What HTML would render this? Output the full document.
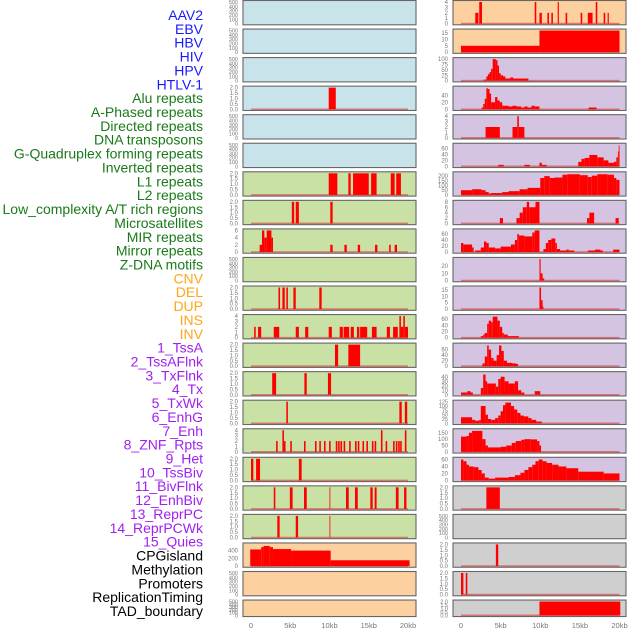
<!DOCTYPE html>
<html><head><meta charset="utf-8">
<style>
html,body{margin:0;padding:0;background:#fff;}
svg{display:block;font-family:"Liberation Sans",sans-serif;}
</style></head>
<body>
<svg id="chart" width="630" height="630" viewBox="0 0 630 630" xmlns="http://www.w3.org/2000/svg"></svg>
<script>
// ---- labels ----
const rowLabels = ["AAV2","EBV","HBV","HIV","HPV","HTLV-1","Alu repeats","A-Phased repeats","Directed repeats","DNA transposons","G-Quadruplex forming repeats","Inverted repeats","L1 repeats","L2 repeats","Low_complexity A/T rich regions","Microsatellites","MIR repeats","Mirror repeats","Z-DNA motifs","CNV","DEL","DUP","INS","INV","1_TssA","2_TssAFlnk","3_TxFlnk","4_Tx","5_TxWk","6_EnhG","7_Enh","8_ZNF_Rpts","9_Het","10_TssBiv","11_BivFlnk","12_EnhBiv","13_ReprPC","14_ReprPCWk","15_Quies","CPGisland","Methylation","Promoters","ReplicationTiming","TAD_boundary"];
const labelColors = ["#1a1aff","#1a1aff","#1a1aff","#1a1aff","#1a1aff","#1a1aff","#1a7a1a","#1a7a1a","#1a7a1a","#1a7a1a","#1a7a1a","#1a7a1a","#1a7a1a","#1a7a1a","#1a7a1a","#1a7a1a","#1a7a1a","#1a7a1a","#1a7a1a","#ffa51a","#ffa51a","#ffa51a","#ffa51a","#ffa51a","#a020f0","#a020f0","#a020f0","#a020f0","#a020f0","#a020f0","#a020f0","#a020f0","#a020f0","#a020f0","#a020f0","#a020f0","#a020f0","#a020f0","#a020f0","#000","#000","#000","#000","#000"];
// ---- x axis ----
const xTicks = [0,5,10,15,20];
const xTickLabels = ["0","5kb","10kb","15kb","20kb"];
// ---- tick sets ----
const T500=[0,100,200,300,400,500], T2=[0,0.5,1,1.5,2], T4=[0,1,2,3,4], T6=[0,2,4,6];
// ---- left column ----
const leftBg = ["#c8e3ea","#c8e3ea","#c8e3ea","#c8e3ea","#c8e3ea","#c8e3ea","#c9e1a4","#c9e1a4","#c9e1a4","#c9e1a4","#c9e1a4","#c9e1a4","#c9e1a4","#c9e1a4","#c9e1a4","#c9e1a4","#c9e1a4","#c9e1a4","#c9e1a4","#fdd0a0","#fdd0a0","#fdd0a0"];
const leftMax = [500,500,500,2,500,500,2,2,6,500,2,4,2,2,2,4,2,2,2,560,500,500];
const leftTicks = [T500,T500,T500,T2,T500,T500,T2,T2,T6,T500,T2,T4,T2,T2,T2,T4,T2,T2,T2,[0,200,400],T500,T500];
const leftSegs = [
 [],[],[],
 [[9.9,10.8,2]],
 [],[],
 [[9.9,11.0,2],[12.4,12.7,2],[13.0,15.0,2],[15.3,16.0,2],[17.8,18.3,2],[18.5,19.1,2]],
 [[5.2,5.5,2],[5.7,6.1,2],[10.1,10.4,2]],
 [[1.1,1.4,2],[1.4,1.7,6],[1.7,2.0,4],[2.0,2.6,6],[2.6,2.8,4],[10.1,10.4,2],[11.9,12.2,2],[13.6,13.9,2],[15.8,16.1,2],[17.6,17.8,2],[18.3,18.6,2]],
 [],
 [[3.5,3.7,2],[4.0,4.3,2],[4.5,4.7,2],[5.4,5.7,2],[8.7,9.0,2]],
 [[0.4,0.6,2],[0.9,1.3,2],[2.9,3.6,2],[5.7,6.1,2],[6.9,7.3,2],[9.9,10.3,2],[11.3,11.7,2],[11.8,12.5,2],[12.7,13.1,2],[13.5,13.8,2],[13.9,14.8,2],[15.4,16.0,2],[17.3,17.7,2],[18.1,18.7,2],[18.9,19.1,4],[19.1,19.4,2],[19.4,19.6,4],[19.6,20.0,2]],
 [[10.7,11.1,2],[12.4,13.9,2]],
 [[2.7,3.2,2],[6.8,7.1,2],[9.8,10.2,2]],
 [[4.5,4.7,2],[18.9,19.2,2],[19.6,19.9,2]],
 [[3.2,3.4,2],[4.0,4.2,4],[4.2,4.4,2],[5.0,5.2,2],[6.75,6.95,2],[8.15,8.35,2],[8.7,8.9,2],[9.3,9.5,2],[9.95,10.15,2],[10.8,11.0,2],[11.1,11.3,2],[11.4,11.6,2],[11.8,12.0,2],[12.5,12.7,2],[13.25,13.45,2],[13.6,13.8,2],[14.2,14.4,2],[14.7,14.9,2],[15.4,15.6,2],[15.75,15.95,2],[16.55,16.75,4],[17.15,17.35,2],[18.1,18.3,2],[18.45,18.65,2],[18.75,18.95,2],[19.0,19.2,2],[19.6,19.8,4]],
 [[0.0,0.3,2],[0.65,1.15,2],[6.1,6.45,2]],
 [[2.9,3.1,2],[4.95,5.3,2],[6.75,7.1,2],[10.0,10.1,2],[12.1,12.45,2],[13.25,13.6,2],[15.2,15.5,2],[15.75,16.0,2],[18.45,18.8,2],[19.5,19.8,2]],
 [[3.35,3.65,2],[5.7,6.0,2],[10.0,10.1,2]],
 [[-0.1,1.3,430],[1.3,1.6,490],[1.6,2.4,520],[2.4,2.8,490],[2.8,5.1,440],[5.1,10.15,400],[10.15,20.2,150]],
 [],[]
];
// ---- right column ----
const rightBg = ["#fdd0a0","#fdd0a0","#d5c4e1","#d5c4e1","#d5c4e1","#d5c4e1","#d5c4e1","#d5c4e1","#d5c4e1","#d5c4e1","#d5c4e1","#d5c4e1","#d5c4e1","#d5c4e1","#d5c4e1","#d5c4e1","#d5c4e1","#cfcfcf","#cfcfcf","#cfcfcf","#cfcfcf","#cfcfcf"];
const rightMax = [4,17,100,62,4,72,230,8,72,30,17,70,78,48,125,170,62,2,500,2,2,2];
const rightTicks = [T4,[0,5,10,15],[0,25,50,75,100],[0,20,40],T4,[0,20,40,60],[0,50,100,150,200],[0,2,4,6,8],[0,20,40,60],[0,10,20],[0,5,10,15],[0,20,40,60],[0,20,40,60],[0,10,20,30,40],[0,25,50,75,100,125],[0,50,100,150],[0,20,40,60],T2,T500,T2,T2,T2];
const rightSegs = [
 [[1.8,2.2,2],[2.3,2.65,4],[9.3,9.5,4],[9.9,10.2,2],[10.9,11.1,2],[11.4,11.6,2],[12.2,12.35,4],[13.2,13.4,2],[15.1,15.3,2],[16.0,16.6,2],[17.0,17.2,4],[18.0,18.2,2],[18.5,18.65,2]],
 [[0,9.9,5],[9.9,20.0,17]],
 [[2.85,3.2,5],[3.2,3.4,20],[3.4,3.6,30],[3.6,3.8,40],[3.8,4.0,55],[4.0,4.4,100],[4.4,4.6,95],[4.6,4.8,70],[4.8,5.0,35],[5.0,5.3,25],[5.3,5.6,20],[5.6,6.2,10],[6.2,6.6,15],[6.6,8.5,10]],
 [[2.6,2.8,5],[2.8,3.0,15],[3.0,3.2,30],[3.2,3.4,60],[3.4,3.6,58],[3.6,3.8,45],[3.8,4.3,20],[4.3,4.6,35],[4.6,4.9,25],[4.9,5.2,20],[5.2,6.0,10],[6.0,6.5,8],[6.5,7.0,10],[7.0,7.6,8],[7.6,8.0,5],[8.0,8.4,8],[8.4,8.9,5],[8.9,9.3,10],[9.3,9.9,8],[16.1,17.1,5]],
 [[3.1,4.9,2],[6.5,7.1,2],[7.1,7.3,4],[7.3,8.0,2]],
 [[4.7,5.4,5],[8.0,8.7,5],[9.9,10.2,12],[10.2,10.8,5],[14.8,15.2,15],[15.2,15.6,25],[15.6,16.2,28],[16.2,17.2,38],[17.2,18.0,30],[18.0,18.6,20],[18.6,19.3,12],[19.3,19.6,15],[19.6,19.8,30],[19.8,19.9,50],[19.9,20.0,70]],
 [[0,1.4,50],[1.4,2.6,60],[2.6,3.1,50],[3.1,3.5,30],[3.5,3.8,15],[3.8,5.2,20],[5.2,6.0,30],[6.0,7.4,40],[7.4,8.4,60],[8.4,10.0,75],[10.0,10.5,180],[10.5,11.2,200],[11.2,11.8,180],[11.8,12.8,185],[12.8,13.4,215],[13.4,15.0,220],[15.0,16.0,210],[16.0,16.5,190],[16.5,17.2,205],[17.2,18.5,220],[18.5,19.3,215],[19.3,19.6,180],[19.6,20.0,160]],
 [[4.9,5.3,2],[7.0,7.4,2],[7.4,7.8,4],[7.8,8.3,6],[8.3,8.6,8],[8.6,9.4,6],[9.4,9.9,8],[15.9,16.2,2],[16.2,16.8,4],[19.5,19.9,2]],
 [[0,0.3,30],[0.3,1.4,25],[1.4,1.6,15],[1.8,2.5,5],[2.5,2.9,15],[2.9,3.2,35],[3.2,3.5,30],[3.5,4.3,15],[4.3,5.0,12],[5.0,6.3,18],[6.3,6.8,25],[6.8,7.1,40],[7.1,7.3,60],[7.3,8.0,55],[8.0,9.0,52],[9.0,9.3,65],[9.3,9.9,72],[10.4,10.7,10],[10.7,11.0,30],[11.0,11.4,40],[11.4,11.9,45],[11.9,12.1,30],[12.1,12.5,10],[12.5,13.3,5],[13.3,13.6,8],[13.6,14.3,5],[16.0,16.9,5],[16.9,17.6,8],[17.6,17.9,5],[19.2,20.0,8]],
 [[9.9,10.05,30],[10.05,10.3,10],[10.3,10.5,3]],
 [[9.9,10.1,17],[10.1,10.3,7],[10.3,10.4,2]],
 [[2.5,2.8,5],[2.8,3.0,10],[3.0,3.3,15],[3.3,3.5,45],[3.5,3.8,55],[3.8,4.0,50],[4.0,4.6,68],[4.6,4.9,55],[4.9,5.2,35],[5.2,5.4,15],[5.4,5.9,10],[5.9,7.3,5]],
 [[2.7,3.0,10],[3.0,3.3,35],[3.3,3.5,75],[3.5,3.8,60],[3.8,4.1,30],[4.1,4.5,20],[4.5,4.8,40],[4.8,5.1,75],[5.1,5.4,55],[5.4,5.8,20],[5.8,6.5,12],[6.5,7.0,10],[7.0,7.2,8]],
 [[0,0.8,5],[0.8,1.2,8],[1.2,1.5,5],[2.5,2.8,15],[2.8,3.1,45],[3.1,3.3,30],[3.3,4.4,25],[4.4,4.7,18],[4.7,5.0,35],[5.0,5.5,40],[5.5,6.0,30],[6.0,6.8,25],[6.8,7.2,30],[7.2,7.6,10],[7.6,8.0,5],[9.3,10.0,8]],
 [[0,1.4,35],[1.4,1.8,20],[1.8,2.3,15],[2.3,2.5,20],[2.5,3.1,100],[3.1,3.4,50],[3.4,3.8,25],[3.8,4.3,20],[4.3,4.7,30],[4.7,5.0,45],[5.0,5.3,70],[5.3,5.6,105],[5.6,6.3,120],[6.3,6.7,100],[6.7,7.1,80],[7.1,7.5,60],[7.5,7.9,45],[7.9,8.5,40],[8.5,8.9,30],[8.9,9.5,20],[9.5,10.2,10]],
 [[0,0.7,120],[0.7,1.0,125],[1.0,1.4,150],[1.4,2.7,165],[2.7,3.1,100],[3.1,3.4,50],[3.4,5.0,35],[5.0,5.7,40],[5.7,6.4,50],[6.4,6.9,70],[6.9,7.6,85],[7.6,8.0,95],[8.0,8.8,100],[8.8,9.6,98],[9.6,9.9,85],[9.9,10.1,50]],
 [[0,0.3,60],[0.3,0.7,55],[0.7,1.0,45],[1.0,1.6,40],[1.6,2.2,38],[2.2,2.6,30],[2.6,3.0,20],[3.0,3.5,8],[3.5,4.3,5],[4.3,6.0,8],[6.0,6.8,10],[6.8,7.5,15],[7.5,8.0,22],[8.0,8.5,30],[8.5,9.0,38],[9.0,9.4,45],[9.4,9.8,55],[9.8,10.3,60],[10.3,10.8,55],[10.8,11.5,50],[11.5,12.3,45],[12.3,13.3,40],[13.3,14.8,35],[14.8,18.0,25],[18.0,20.0,20]],
 [[3.2,4.9,2]],
 [],
 [[4.4,4.7,2]],
 [[0.0,0.3,2],[0.6,0.8,2]],
 [[9.9,20.1,2]]
];

const NS="http://www.w3.org/2000/svg";
const svg=document.getElementById('chart');
function mk(tag,attrs,parent){const e=document.createElementNS(NS,tag);for(const k in attrs)e.setAttribute(k,attrs[k]);(parent||svg).appendChild(e);return e;}

// labels
rowLabels.forEach((t,i)=>{
  const e=mk('text',{x:203,y:20+i*13.86,'text-anchor':'end','font-size':14,fill:labelColors[i]});
  e.textContent=t;
  
  
});

const cols=[
 {name:'left',x0:243,x1:416,d0:251,d1:408,bg:leftBg,max:leftMax,ticks:leftTicks,segs:leftSegs},
 {name:'right',x0:453,x1:626,d0:461,d1:619.5,bg:rightBg,max:rightMax,ticks:rightTicks,segs:rightSegs}
];
cols.forEach(c=>{
  const xs=kb=>c.d0+(c.d1-c.d0)*kb/20;
  for(let i=0;i<22;i++){
    const top=0.5+28.55*i, h=(i===21)?16.5:24.3, bot=top+h;
    const g=mk('g',{});
    
    
    const r=mk('rect',{x:c.x0,y:top,width:c.x1-c.x0,height:h,fill:c.bg[i],stroke:'#666','stroke-width':1.1},g);
    
    
    const yTop=top+1.5, yBot=bot-1.2;
    const ys=v=>yBot-(yBot-yTop)*v/c.max[i];
    const segs=c.segs[i];
    if(segs.length){
      const bl=mk('line',{x1:xs(0),x2:xs(20),y1:yBot,y2:yBot,stroke:'rgba(210,70,70,0.65)','stroke-width':1.6},g);
      
      
    }
    segs.forEach(s=>{
      const y=ys(s[2]);
      const b=mk('rect',{x:xs(s[0]),y:y,width:Math.max(0.8,xs(s[1])-xs(s[0])),height:yBot-y,fill:'#ff0000'},g);
      
      
    });
    const tk=c.ticks[i];
    const dec=tk.some(v=>v%1!==0);
    const fs=(h<20||tk.length>5)?5.5:6;
    tk.forEach(v=>{
      const t=mk('text',{x:c.x0-5,y:ys(v)+2,'text-anchor':'end','font-size':fs,fill:'#777'},g);
      t.textContent=dec?v.toFixed(1):String(v);
      
      
    });
  }
  xTicks.forEach((v,j)=>{
    const t=mk('text',{x:xs(v),y:628,'text-anchor':'middle','font-size':7.5,fill:'#777'});
    t.textContent=xTickLabels[j];
    
    
  });
});
</script>
</body></html>
